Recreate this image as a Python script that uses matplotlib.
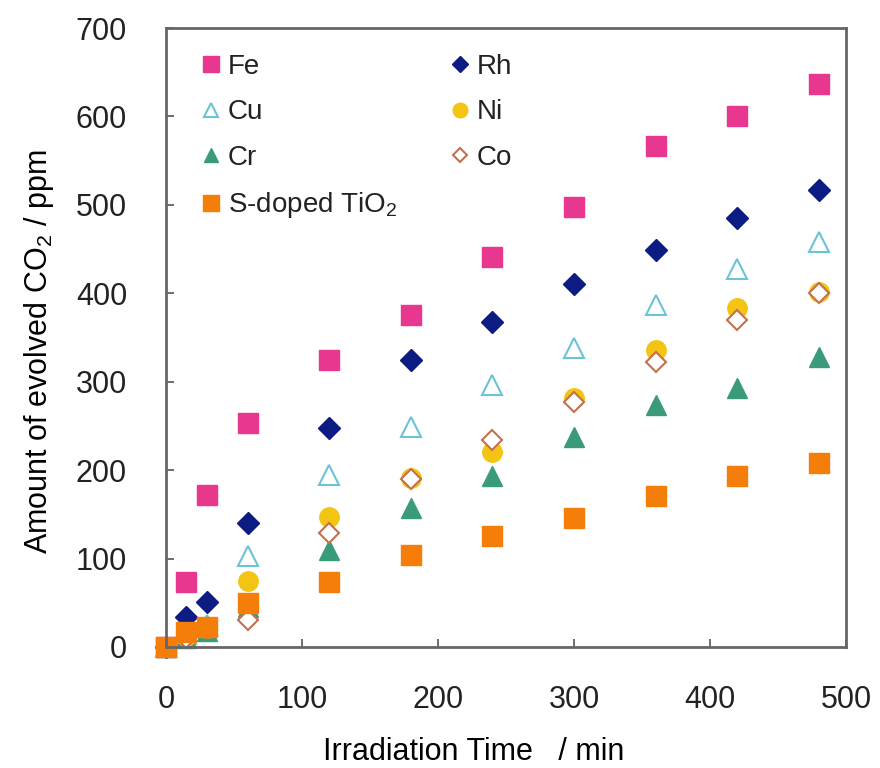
import numpy as np
import matplotlib
matplotlib.use('Agg')
import matplotlib.pyplot as plt

plt.rcParams['font.family'] = ['Liberation Sans', 'DejaVu Sans']
plt.rcParams['mathtext.fontset'] = 'custom'
plt.rcParams['mathtext.rm'] = 'Liberation Sans'
plt.rcParams['text.color'] = '#222222'
plt.rcParams['xtick.labelcolor'] = '#222222'
plt.rcParams['ytick.labelcolor'] = '#222222'

# irradiation time (min)
time = [0, 15, 30, 60, 120, 180, 240, 300, 360, 420, 480]

# evolved CO2 (ppm)
fe = [0, 73, 172, 253, 325, 375, 441, 498, 566, 600, 637]
rh = [0, 34, 51, 140, 248, 324, 368, 410, 449, 485, 517]
cu = [0, 15, 25, 103, 195, 249, 296, 338, 387, 428, 458]
cr = [0, 10, 18, 45, 110, 157, 193, 238, 274, 293, 328]
ni = [0, 12, 22, 75, 147, 191, 221, 282, 336, 383, 401]
co = [0, 10, 20, 31, 129, 190, 234, 277, 322, 370, 400]
tio2 = [0, 17, 23, 50, 74, 104, 125, 146, 171, 193, 208]

fig = plt.figure(figsize=(8.8, 7.68), dpi=100)
ax = fig.add_axes([166/880, 1-647/768, 680/880, 619/768])

kw = dict(linestyle='none', clip_on=False)
h_fe, = ax.plot(time, fe, marker='s', ms=15, color='#E8378E', mec='#E8378E', label='Fe', **kw)
h_rh, = ax.plot(time, rh, marker='D', ms=11, color='#0D1C82', mec='#0D1C82', label='Rh', **kw)
h_cu, = ax.plot(time, cu, marker='^', ms=14, mfc='white', mec='#6CC3D8', mew=1.5, label='Cu', **kw)
h_cr, = ax.plot(time, cr, marker='^', ms=14, color='#3A9B7C', mec='#3A9B7C', label='Cr', **kw)
h_ni, = ax.plot(time, ni, marker='o', ms=14, color='#F4C414', mec='#F4C414', label='Ni', **kw)
h_co, = ax.plot(time, co, marker='D', ms=10, mfc='white', mec='#C2704E', mew=1.5, label='Co', **kw)
h_ti, = ax.plot(time, tio2, marker='s', ms=15, color='#F57D0A', mec='#F57D0A',
                label='S-doped TiO$_2$', **kw)

ax.set_xlim(0, 500)
ax.set_ylim(0, 700)
ax.set_xticks(np.arange(0, 501, 100))
ax.set_yticks(np.arange(0, 701, 100))
ax.tick_params(direction='in', length=6, width=1.2, color='#555555',
               labelsize=22, top=False, right=False)
ax.tick_params(axis='x', pad=27)
ax.tick_params(axis='y', pad=28)
for s in ax.spines.values():
    s.set_color('#666666')
    s.set_linewidth(2)

ax.set_xlabel('Irradiation Time   / min', fontsize=22)
ax.set_ylabel('Amount of evolved CO$_2$ / ppm', fontsize=22)
ax.xaxis.set_label_coords((474-166)/680, -(760-647)/619)
ax.xaxis.label.set_va('baseline')
ax.yaxis.set_label_coords(-(166-22)/680, (647-352)/619)
ax.yaxis.label.set_va('top')

handles = [h_fe, h_cu, h_cr, h_ti, h_rh, h_ni, h_co]
fig.legend(handles=handles, labels=[h.get_label() for h in handles], ncol=2,
           loc='upper left', bbox_to_anchor=(203/880, 1-54/768), frameon=False,
           fontsize=20, markerscale=0.75, handlelength=0.6, handletextpad=0.3,
           labelspacing=0.7, columnspacing=1.95, borderpad=0, borderaxespad=0)

fig.savefig('out.png', dpi=100)
